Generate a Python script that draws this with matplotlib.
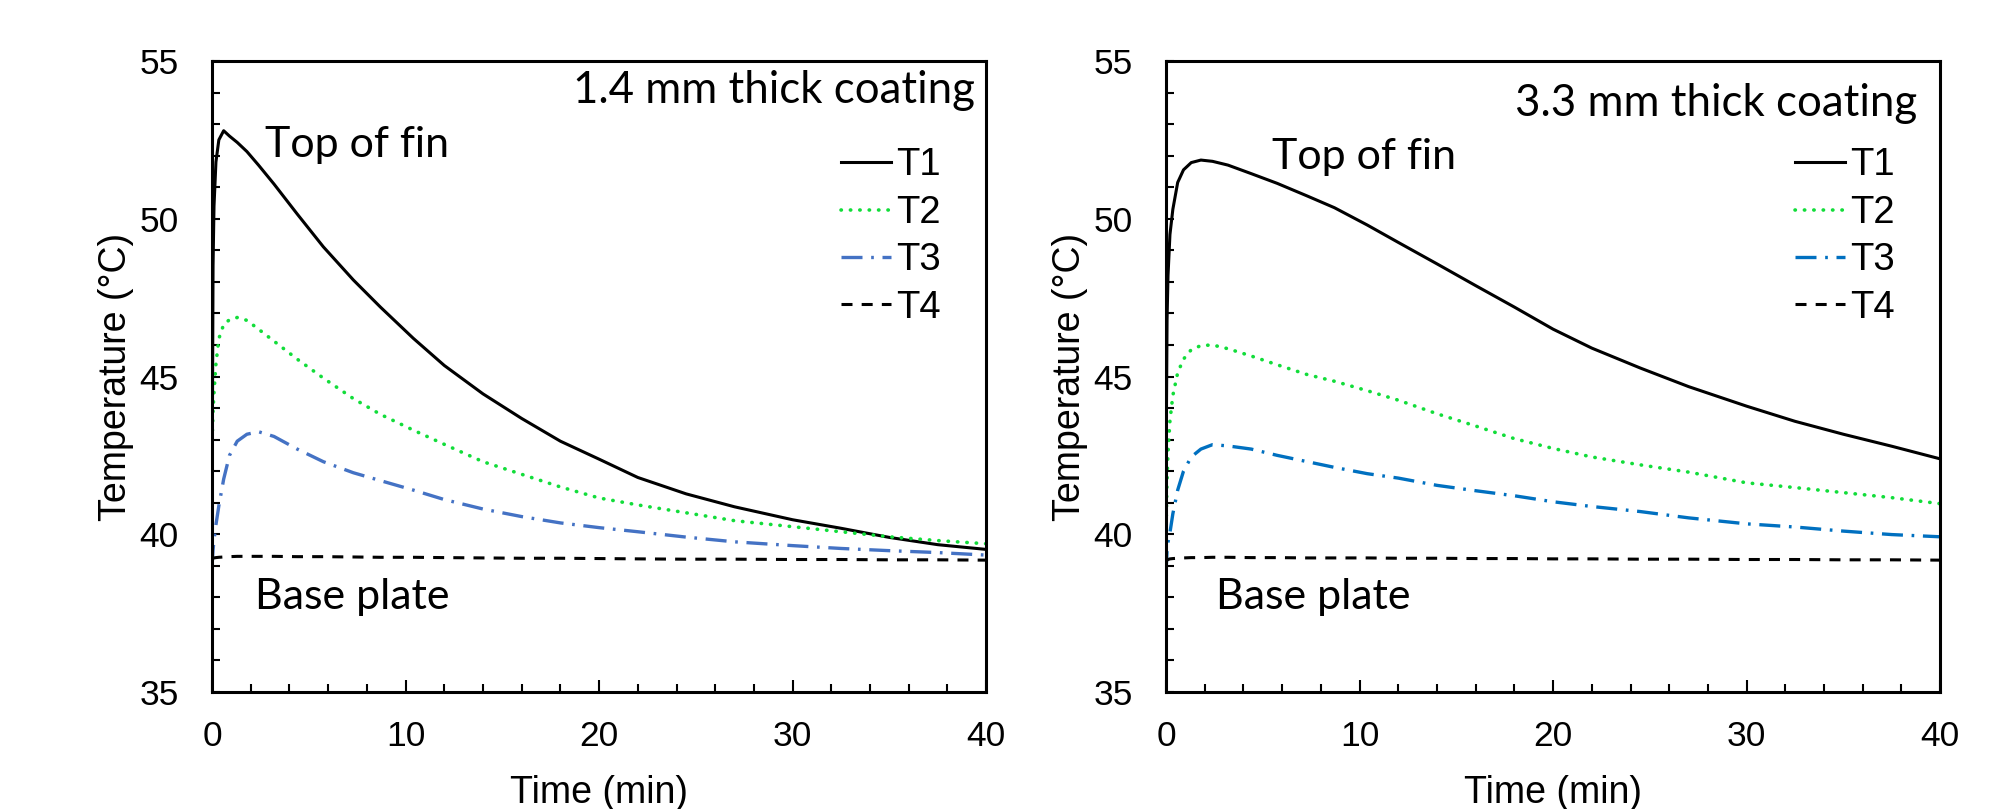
import matplotlib
matplotlib.use("Agg")
import matplotlib.pyplot as plt
from matplotlib.ticker import MultipleLocator

# time grid (min), shared by both panels
time_min = [0, 0.02, 0.05, 0.1, 0.2, 0.35, 0.6, 0.9, 1.3, 1.8, 2.4, 3.2, 4.4, 5.75,
            7.3, 8.7, 10.4, 12, 14, 16, 18, 20, 22, 24.5, 27, 30, 32.5, 35, 37.5, 40]

# 1.4 mm coating
t1_thin = [39.3, 44.0, 48.5, 50.4, 51.8, 52.5, 52.79, 52.62, 52.42, 52.13, 51.7, 51.1, 50.15, 49.11,
           48.06, 47.2, 46.21, 45.35, 44.45, 43.67, 42.95, 42.38, 41.8, 41.28, 40.87, 40.46, 40.19, 39.9, 39.67, 39.52]
t2_thin = [42.7, 43.3, 43.9, 44.5, 45.4, 46.2, 46.65, 46.8, 46.87, 46.78, 46.5, 46.12, 45.55, 44.95,
           44.3, 43.8, 43.3, 42.85, 42.3, 41.9, 41.5, 41.15, 40.93, 40.68, 40.43, 40.24, 40.08, 39.92, 39.8, 39.7]
t3_thin = [39.0, 39.2, 39.5, 39.8, 40.3, 40.9, 41.75, 42.5, 42.95, 43.17, 43.25, 43.1, 42.7, 42.3,
           41.95, 41.7, 41.4, 41.1, 40.8, 40.56, 40.36, 40.21, 40.08, 39.91, 39.76, 39.64, 39.55, 39.48, 39.42, 39.34]
t4_thin = [39.2, 39.22, 39.24, 39.25, 39.26, 39.27, 39.28, 39.29, 39.3, 39.3, 39.3, 39.3, 39.29, 39.29,
           39.28, 39.27, 39.27, 39.26, 39.25, 39.24, 39.24, 39.23, 39.22, 39.21, 39.21, 39.2, 39.2, 39.19, 39.19, 39.18]

# 3.3 mm coating
t1_thick = [39.1, 44.0, 46.8, 48.2, 49.5, 50.3, 51.15, 51.55, 51.78, 51.86, 51.82, 51.7, 51.43, 51.12,
            50.72, 50.35, 49.8, 49.25, 48.57, 47.88, 47.2, 46.5, 45.9, 45.27, 44.68, 44.06, 43.58, 43.17, 42.79, 42.39]
t2_thick = [40.0, 40.8, 41.7, 42.6, 43.6, 44.4, 45.12, 45.55, 45.85, 45.98, 46.0, 45.88, 45.65, 45.37,
            45.06, 44.85, 44.55, 44.25, 43.82, 43.43, 43.03, 42.72, 42.45, 42.2, 41.97, 41.63, 41.48, 41.32, 41.16, 40.97]
t3_thick = [38.8, 39.1, 39.5, 39.75, 40.05, 40.65, 41.4, 42.0, 42.45, 42.7, 42.84, 42.8, 42.7, 42.5,
            42.3, 42.12, 41.92, 41.78, 41.55, 41.38, 41.22, 41.03, 40.88, 40.72, 40.52, 40.33, 40.23, 40.1, 39.99, 39.92]
t4_thick = [39.1, 39.15, 39.18, 39.2, 39.22, 39.23, 39.24, 39.25, 39.26, 39.26, 39.27, 39.27, 39.26, 39.26,
            39.25, 39.25, 39.25, 39.24, 39.24, 39.23, 39.23, 39.22, 39.22, 39.21, 39.21, 39.2, 39.2, 39.19, 39.19, 39.18]

labels = ["T1", "T2", "T3", "T4"]
panels = [
    ("1.4 mm thick coating", [t1_thin, t2_thin, t3_thin, t4_thin], "#4472C4"),
    ("3.3 mm thick coating", [t1_thick, t2_thick, t3_thick, t4_thick], "#0070C0"),
]

plt.rcParams["font.family"] = ["Liberation Sans", "DejaVu Sans"]
ANNOT_FONT = ["Lato", "DejaVu Sans"]

fig = plt.figure(figsize=(19.95, 8.09), dpi=100)
ax_left = fig.add_axes([0.1063, 0.1446, 0.388, 0.780])
ax_right = fig.add_axes([0.5845, 0.1446, 0.388, 0.780])

# per-panel text placement (axes fraction)
title_pos = [(0.986, 0.933), (0.970, 0.913)]
top_pos = [(0.0685, 0.848), (0.137, 0.829)]
base_pos = [(0.0556, 0.1315), (0.0646, 0.1315)]

for i, (ax, (title, series, blue)) in enumerate(zip([ax_left, ax_right], panels)):
    styles = [
        dict(color="black", lw=2.2, ls="-"),
        dict(color="#12dd3a", lw=2.6, ls=(0, (0.1, 2.5)), dash_capstyle="round"),
        dict(color=blue, lw=2.4, ls=(0, (6.3, 2.6, 0.8, 2.6))),
        dict(color="black", lw=2.2, ls=(0, (3.6, 3.0))),
    ]
    for vals, lab, st in zip(series, labels, styles):
        ax.plot(time_min, vals, label=lab, **st)

    ax.set_xlim(0, 40)
    ax.set_ylim(35, 55)
    ax.xaxis.set_major_locator(MultipleLocator(10))
    ax.xaxis.set_minor_locator(MultipleLocator(2))
    ax.yaxis.set_major_locator(MultipleLocator(5))
    ax.yaxis.set_minor_locator(MultipleLocator(1))
    ax.tick_params(axis="both", which="both", direction="in", width=1.5, labelsize=25.5)
    ax.tick_params(axis="x", which="major", length=8.6, pad=20)
    ax.tick_params(axis="x", which="minor", length=5.8)
    ax.tick_params(axis="y", which="both", length=5.8, pad=24)
    for sp in ax.spines.values():
        sp.set_linewidth(2.2)

    ax.set_xlabel("Time (min)", fontsize=27, labelpad=16)
    ax.set_ylabel("Temperature (\u00b0C)", fontsize=27, labelpad=4)

    ax.text(*title_pos[i], title, transform=ax.transAxes, ha="right", va="baseline",
            fontsize=31.5, family=ANNOT_FONT)
    ax.text(*top_pos[i], "Top of fin", transform=ax.transAxes, ha="left", va="baseline",
            fontsize=31, family=ANNOT_FONT)
    ax.text(*base_pos[i], "Base plate", transform=ax.transAxes, ha="left", va="baseline",
            fontsize=31, family=ANNOT_FONT)

    ax.legend(loc="upper left", bbox_to_anchor=(0.813, 0.863), frameon=False, fontsize=27.5,
              borderpad=0, borderaxespad=0, handlelength=1.3, handletextpad=0.13,
              labelspacing=0.3)

fig.savefig("out.png", dpi=100)
